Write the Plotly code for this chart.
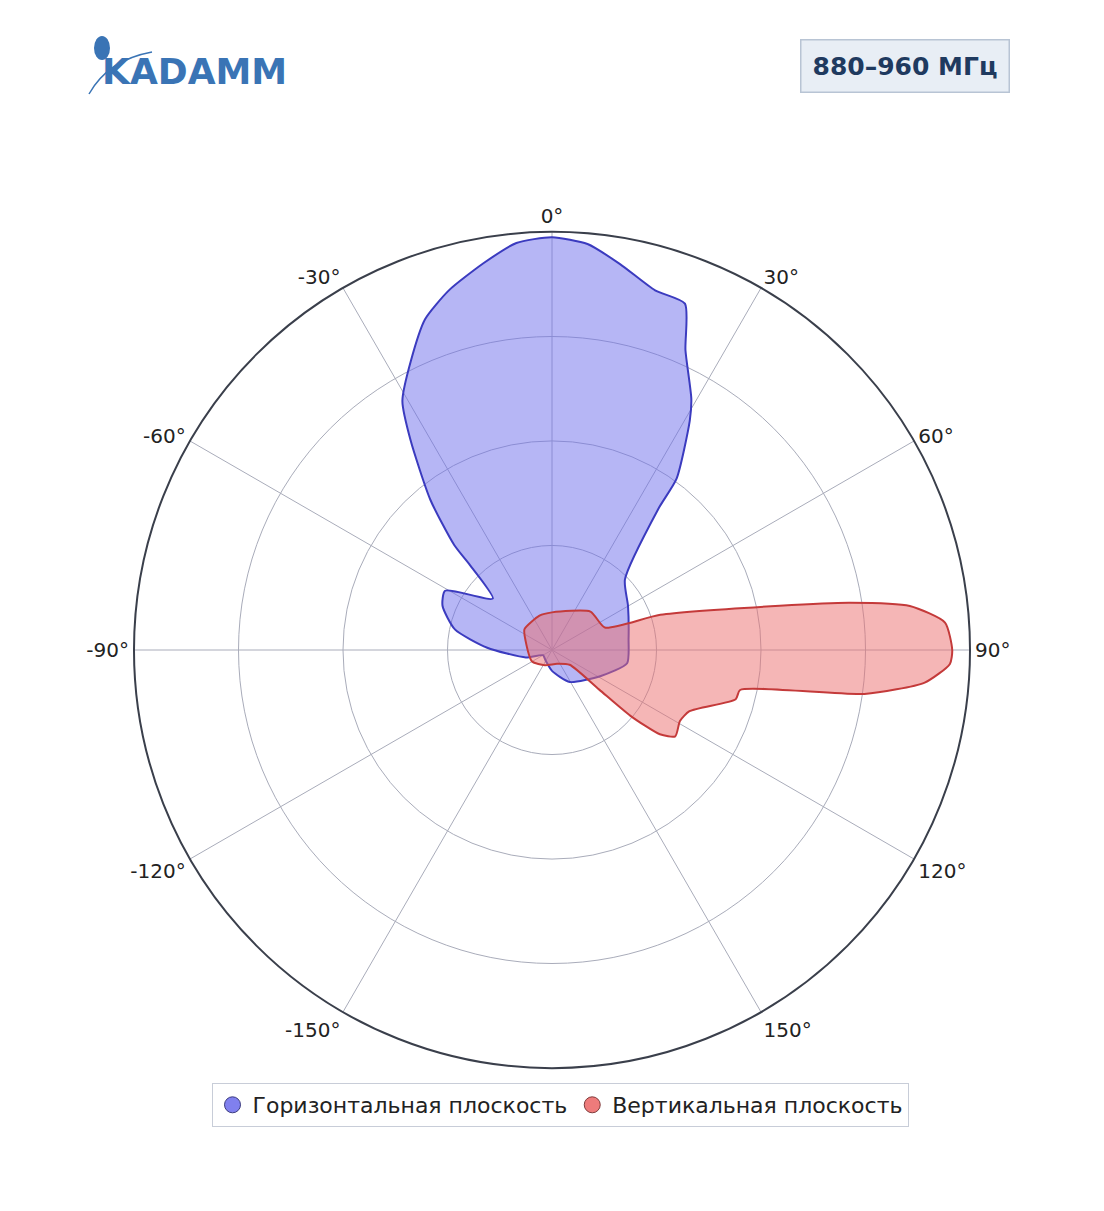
import plotly.graph_objects as go

# Диаграмма направленности, дБ (условные единицы, 0..40)
h_theta = [0, 5, 10, 16, 21, 24, 29, 31, 36, 37, 46, 60, 82, 100, 118, 151, 180,
           -150, -120, -106, -88, -78, -68, -61, -49, -44, -43, -39, -34, -31, -26, -21, -16, -10, -5, 0]
h_r = [39.5, 39.0, 37.5, 35.8, 35.5, 31.4, 27.5, 25.6, 20.3, 16.9, 9.7, 8.4, 7.4, 7.3, 5.3, 3.5, 2.0,
       1.2, 1.0, 2.6, 6.2, 9.5, 11.3, 11.7, 7.5, 11.3, 13.7, 18.5, 24.2, 27.8, 30.8, 33.9, 35.8, 37.6, 39.1, 39.5]

v_theta = [0, 45, 67, 72, 79, 81, 83, 86, 90, 92, 95, 98, 102, 105, 114, 119, 125, 128, 130, 130, 130,
           160, -155, -120, -70, -53, -20, 0]
v_r = [3.6, 5.2, 5.5, 10.9, 22.2, 28.9, 34.5, 37.7, 38.3, 38.1, 35.8, 30.2, 18.4, 18.2, 14.4, 14.0, 14.4,
       13.1, 9.8, 5.9, 2.2, 1.4, 1.6, 2.2, 2.7, 3.3, 3.5, 3.6]

tick_vals = [0, 30, 60, 90, 120, 150, 210, 240, 270, 300, 330]
tick_text = ["0°", "30°", "60°", "90°", "120°", "150°", "-150°", "-120°", "-90°", "-60°", "-30°"]

fig = go.Figure()
fig.add_trace(go.Scatterpolar(r=h_r, theta=h_theta, mode="lines", fill="toself",
                              fillcolor="rgba(110,110,235,0.5)",
                              line=dict(color="#3b3bbf", width=2, shape="spline", smoothing=0.6),
                              showlegend=False))
fig.add_trace(go.Scatterpolar(r=v_r, theta=v_theta, mode="lines", fill="toself",
                              fillcolor="rgba(235,110,110,0.5)",
                              line=dict(color="#c43a3a", width=2, shape="spline", smoothing=0.6),
                              showlegend=False))
# legend markers
fig.add_trace(go.Scatterpolar(r=[None], theta=[None], mode="markers", name="Горизонтальная плоскость",
                              marker=dict(size=20, color="#8080ee", line=dict(color="#3b3b7f", width=1))))
fig.add_trace(go.Scatterpolar(r=[None], theta=[None], mode="markers", name="Вертикальная плоскость",
                              marker=dict(size=20, color="#ee7b7b", line=dict(color="#7f3b3b", width=1))))

fig.update_layout(
    width=1104, height=1211,
    margin=dict(l=0, r=0, t=0, b=0),
    paper_bgcolor="white",
    font=dict(family="DejaVu Sans", size=20, color="#222"),
    polar=dict(
        domain=dict(x=[126/1104, 962/1104], y=[151/1211, 987/1211]),
        bgcolor="white",
        angularaxis=dict(rotation=90, direction="clockwise", tickvals=tick_vals, ticktext=tick_text,
                         linecolor="#3a3f4b", linewidth=2, gridcolor="#a9acba", ticks="",
                         tickfont=dict(size=20)),
        radialaxis=dict(range=[0, 40], dtick=10, showticklabels=False, ticks="", showline=False,
                        gridcolor="#a9acba"),
    ),
    legend=dict(orientation="h", x=0.5, xanchor="center", y=1-1097/1211, yanchor="middle",
                bordercolor="#c8cdd8", borderwidth=1, font=dict(size=22), itemsizing="trace"),
    annotations=[
        dict(text="<b>880–960 МГц</b>", xref="paper", yref="paper", x=897/1104, y=1-58/1211,
             xanchor="center", yanchor="middle",
             showarrow=False, font=dict(size=25, color="#1f3a5f"), bgcolor="#e8eef5",
             bordercolor="#b8c4d4", borderwidth=1.5, borderpad=11),
        dict(text="<b>KADAMM</b>", xref="paper", yref="paper", x=186/1104, y=1-64/1211,
             xanchor="center", yanchor="middle",
             showarrow=False, font=dict(size=36, color="#3a74b5", family="DejaVu Sans")),
    ],
    shapes=[
        dict(type="circle", xref="paper", yref="paper", x0=86/1104, x1=102/1104,
             y0=1-52/1211, y1=1-28/1211, fillcolor="#3a74b5", line=dict(width=0)),
        dict(type="path", xref="paper", yref="paper",
             path=f"M {81/1104} {1-86/1211} Q {100/1104} {1-52/1211} {144/1104} {1-44/1211}",
             line=dict(color="#3a74b5", width=1.5)),
    ],
)
fig.write_html("out.html")
